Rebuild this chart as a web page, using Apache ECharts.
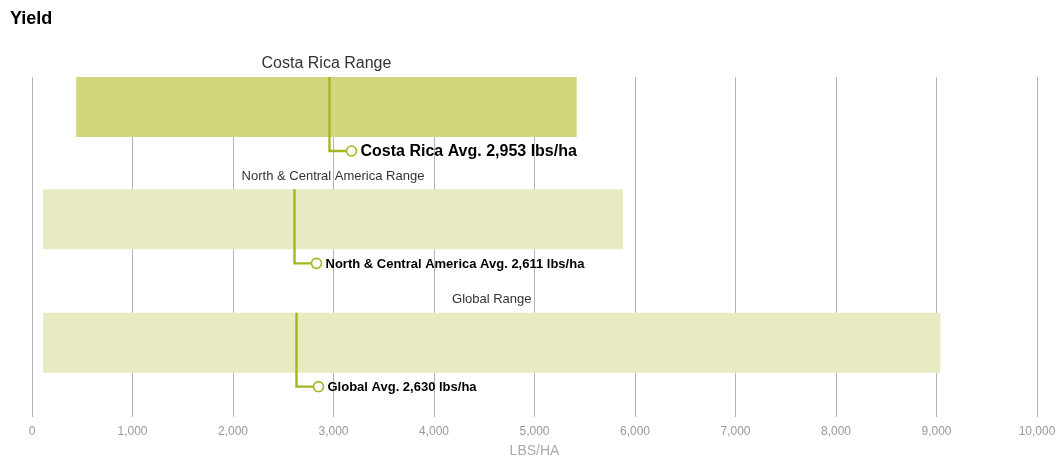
<!DOCTYPE html>
<html>
<head>
<meta charset="utf-8">
<script src="https://cdn.jsdelivr.net/npm/echarts@6/dist/echarts.min.js"></script>
<style>
  html, body { margin: 0; padding: 0; background: #fff; }
  #chart { width: 1063px; height: 465px; }
</style>
</head>
<body>
<div id="chart"></div>
<script>
// ---- data ----
const regions = ['Costa Rica', 'North & Central America', 'Global'];
const rangeMin = [440, 110, 110];
const rangeMax = [5420, 5880, 9040];
const averages = [2953, 2611, 2630];
const xTickMin = 0;
const xTickMax = 10000;
const xTickStep = 1000;

// ---- styles ----
const barColors = ['#d2d77d', '#e8ebc2', '#e8ebc2'];
const rangeFont = [16, 13, 13];
const avgFont = [16, 13, 13];
const bandNudge = [0, -1, 9];
const lineColor = '#a5b61f';
const FONT = '"Liberation Sans", Arial, Helvetica, sans-serif';

const fmt = v => Number(v).toLocaleString('en-US');

const seriesData = regions.map((r, i) => [rangeMin[i], rangeMax[i], averages[i], i]);

const chart = echarts.init(document.getElementById('chart'));
chart.setOption({
  animation: false,
  title: {
    text: 'Yield', left: 5, top: 5,
    textStyle: { fontFamily: FONT, fontSize: 18, fontWeight: 'bold', color: '#000' }
  },
  grid: { left: 32, right: 26, top: 77, bottom: 48 },
  xAxis: {
    type: 'value', min: xTickMin, max: xTickMax, interval: xTickStep,
    name: 'LBS/HA', nameLocation: 'middle', nameGap: 27,
    nameTextStyle: { fontFamily: FONT, fontSize: 14, color: '#aaa' },
    axisLine: { show: false }, axisTick: { show: false },
    axisLabel: { margin: 9, fontFamily: FONT, fontSize: 12, color: '#999', formatter: v => fmt(v) },
    splitLine: { show: true, lineStyle: { color: '#b4b4b4', width: 1 } }
  },
  yAxis: {
    type: 'category', data: regions, inverse: true,
    axisLine: { show: false }, axisTick: { show: false }, axisLabel: { show: false },
    splitLine: { show: false }
  },
  series: [{
    type: 'custom',
    data: seriesData,
    encode: { x: [0, 1, 2], y: 3 },
    renderItem: function (params, api) {
      const i = api.value(3);
      const band = api.size([0, 1])[1];
      const cy = api.coord([0, i])[1];
      const top = cy - band / 2 + bandNudge[i];
      const h = 60;
      const x0 = api.coord([api.value(0), i])[0];
      const x1 = api.coord([api.value(1), i])[0];
      const xa = Math.round(api.coord([api.value(2), i])[0]) + 0.5;
      const ly = top + 74;
      const cx = xa + 22;
      const r = 5;
      const name = regions[i];
      return {
        type: 'group',
        children: [
          { type: 'rect', shape: { x: x0, y: top, width: x1 - x0, height: h },
            style: { fill: barColors[i] } },
          { type: 'text', x: (x0 + x1) / 2, y: top - 13,
            style: { text: name + ' Range', fontFamily: FONT, fontSize: rangeFont[i],
              fill: '#333', align: 'center', verticalAlign: 'middle' } },
          { type: 'polyline', shape: { points: [[xa, top], [xa, ly], [cx - r, ly]] },
            style: { stroke: lineColor, lineWidth: 2.4, fill: null } },
          { type: 'circle', shape: { cx: cx, cy: ly, r: r },
            style: { fill: '#fff', stroke: lineColor, lineWidth: 1.6 } },
          { type: 'text', x: cx + 9, y: ly + 1,
            style: { text: name + ' Avg. ' + fmt(api.value(2)) + ' lbs/ha', fontFamily: FONT,
              fontSize: avgFont[i], fontWeight: 'bold', fill: '#000', align: 'left', verticalAlign: 'middle' } }
        ]
      };
    }
  }]
});
</script>
</body>
</html>
